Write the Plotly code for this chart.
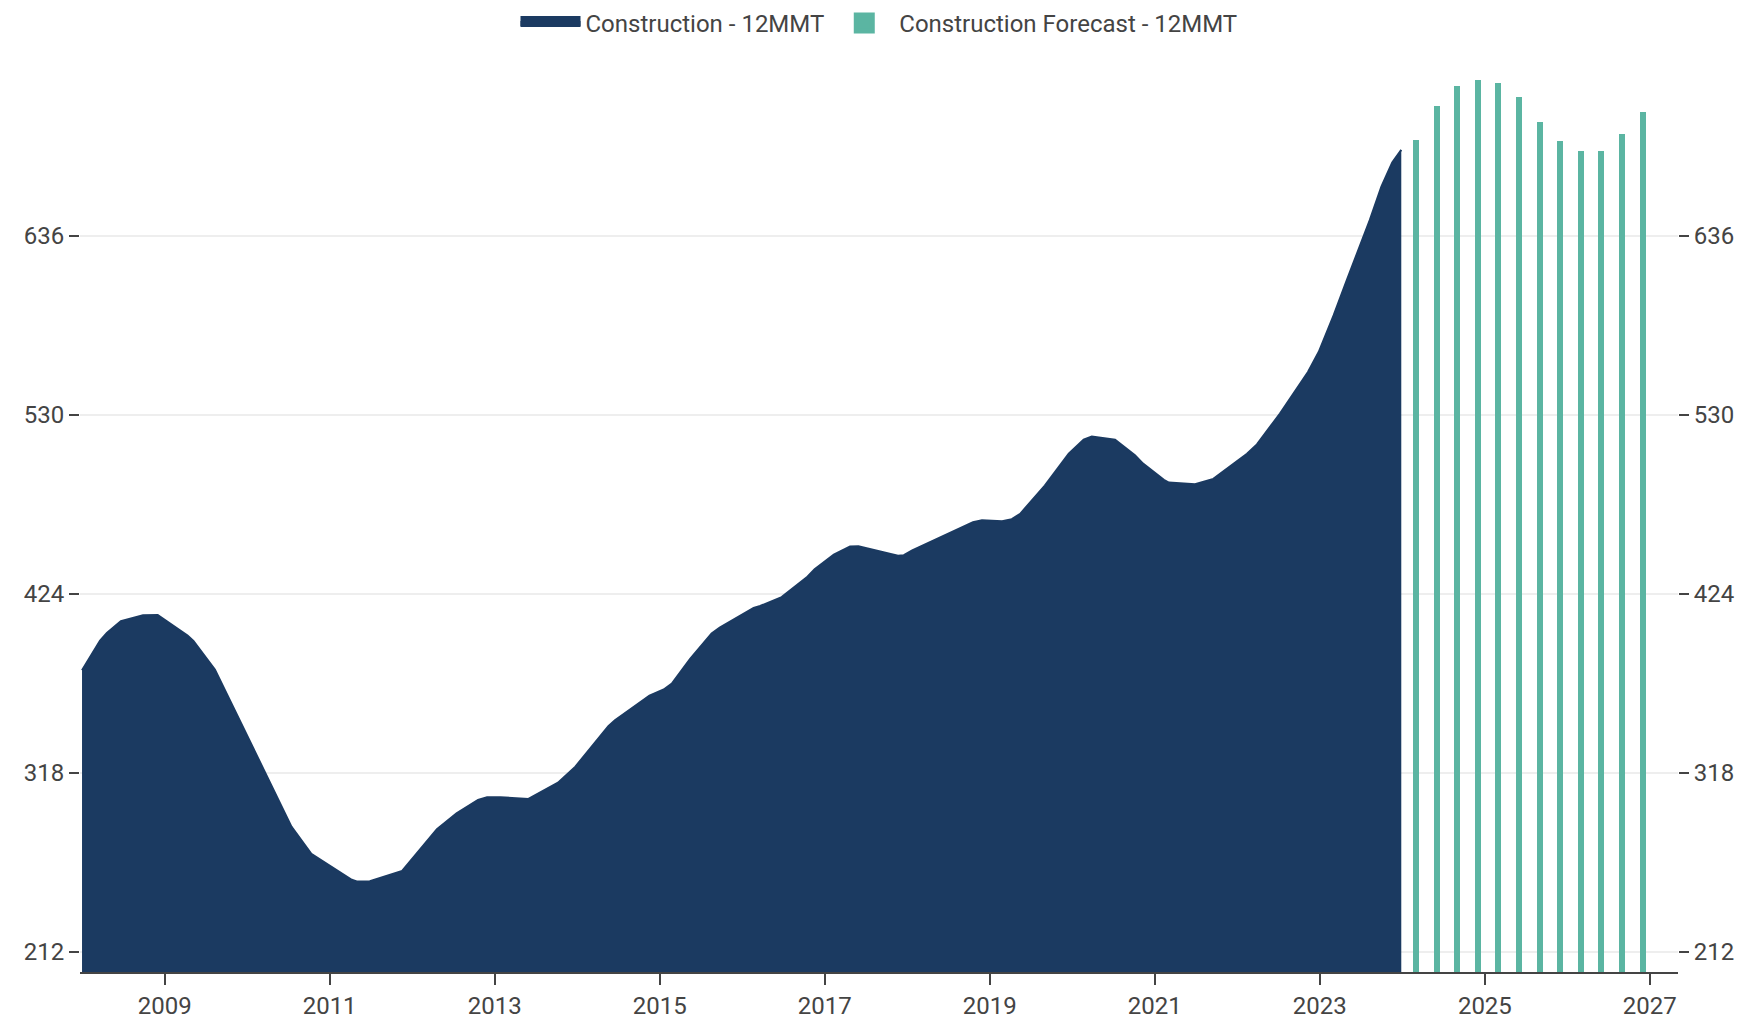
import plotly.graph_objects as go

# ---- data ----
construction_dates = [
    "2008-01-01", "2008-03-21", "2008-04-20", "2008-06-21", "2008-09-27", "2008-12-01",
    "2009-04-12", "2009-05-08", "2009-08-11",
    "2010-07-16", "2010-10-12",
    "2011-04-09", "2011-05-01", "2011-06-28", "2011-11-18",
    "2012-04-20", "2012-07-16", "2012-10-19", "2012-11-28",
    "2013-01-26", "2013-05-30", "2013-10-08", "2013-12-24",
    "2014-05-19", "2014-06-17", "2014-11-17",
    "2015-01-19", "2015-02-24", "2015-05-16", "2015-08-19", "2015-09-24",
    "2016-02-21", "2016-03-21", "2016-06-24", "2016-10-12", "2016-11-17",
    "2017-02-10", "2017-04-23", "2017-05-30", "2017-11-21", "2017-12-17",
    "2018-01-23", "2018-10-19", "2018-11-28",
    "2019-02-25", "2019-04-09", "2019-05-16", "2019-09-02", "2019-12-17",
    "2020-02-21", "2020-03-28", "2020-07-09", "2020-10-05", "2020-11-10",
    "2021-02-10", "2021-03-04", "2021-06-28", "2021-09-17",
    "2022-02-13", "2022-03-29", "2022-07-09", "2022-11-10", "2022-12-28",
    "2023-03-04", "2023-05-01", "2023-08-11", "2023-10-01", "2023-11-18", "2023-12-28",
]
construction_values = [
    378.7, 396.2, 400.7, 407.8, 411.2, 411.4,
    399.2, 396.0, 379.1,
    286.1, 270.0,
    254.6, 253.6, 253.8, 259.9,
    284.6, 294.0, 301.9, 303.5,
    303.5, 302.5, 312.1, 321.6,
    345.6, 349.1, 363.7,
    367.3, 370.8, 385.4, 400.4, 403.9,
    415.5, 416.7, 422.0, 433.5, 438.4,
    447.2, 451.9, 452.1, 446.5, 446.8,
    449.6, 466.3, 467.5,
    466.9, 468.1, 471.3, 488.0, 506.9,
    515.2, 517.0, 515.2, 505.9, 501.0,
    491.4, 489.8, 488.8, 492.0,
    506.9, 512.4, 530.6, 555.3, 567.2,
    588.9, 609.7, 645.3, 665.1, 679.3, 686.8,
]

forecast_dates = [
    "2024-03-01", "2024-06-01", "2024-09-01", "2024-12-01",
    "2025-03-01", "2025-06-01", "2025-09-01", "2025-12-01",
    "2026-03-01", "2026-06-01", "2026-09-01", "2026-12-01",
]
forecast_values = [
    692.8, 713.0, 724.8, 728.4,
    726.6, 718.3, 703.5, 692.2,
    686.3, 686.3, 696.4, 709.4,
]

y_ticks = [212, 318, 424, 530, 636]
x_tick_dates = ["2009-01-01", "2011-01-01", "2013-01-01", "2015-01-01", "2017-01-01",
                "2019-01-01", "2021-01-01", "2023-01-01", "2025-01-01", "2027-01-01"]
x_tick_labels = ["2009", "2011", "2013", "2015", "2017", "2019", "2021", "2023", "2025", "2027"]

NAVY = "#1B3A61"
TEAL = "#5BB5A2"
FONT = "Roboto"
NAME_HIST = "Construction - 12MMT"
NAME_FC = "Construction Forecast - 12MMT"

fig = go.Figure()
# plotted series (legend shown through the larger legend keys below)
fig.add_trace(go.Scatter(
    x=construction_dates, y=construction_values,
    name=NAME_HIST, legendgroup="hist", showlegend=False,
    mode="lines", line=dict(color=NAVY, width=2),
    fill="tozeroy", fillcolor=NAVY,
))
fig.add_trace(go.Bar(
    x=forecast_dates, y=forecast_values,
    name=NAME_FC, legendgroup="fc", showlegend=False,
    marker=dict(color=TEAL, line=dict(width=0)),
    width=26.5 * 86400000,
    yaxis="y2",
))
# legend keys
fig.add_trace(go.Scatter(
    x=[None], y=[None], name=NAME_HIST, legendgroup="hist",
    mode="lines", line=dict(color=NAVY, width=10),
    fill="tozeroy", fillcolor=NAVY, hoverinfo="skip",
))
fig.add_trace(go.Scatter(
    x=[None], y=[None], name=NAME_FC, legendgroup="fc",
    mode="markers", marker=dict(symbol="square", size=16, color=TEAL,
                                line=dict(color=TEAL, width=5)),
    hoverinfo="skip", yaxis="y2",
))

y_range = [200, 740]
axis_font = dict(family=FONT, size=24, color="#444")

fig.update_layout(
    width=1744, height=1023,
    margin=dict(l=80, r=66, t=60, b=51, autoexpand=False),
    paper_bgcolor="white", plot_bgcolor="white",
    font=dict(family=FONT, size=24, color="#444"),
    showlegend=True,
    legend=dict(orientation="h", x=0.5, xanchor="center", y=1.04, yanchor="middle",
                font=dict(family=FONT, size=24, color="#444"), itemwidth=60,
                bgcolor="rgba(0,0,0,0)"),
    bargap=0,
    xaxis=dict(
        type="date", range=["2007-12-23", "2027-05-06"], automargin=False,
        tickmode="array", tickvals=x_tick_dates, ticktext=x_tick_labels,
        ticks="outside", ticklen=11, tickwidth=2, tickcolor="#444",
        showline=True, linecolor="#444", linewidth=2,
        showgrid=False, zeroline=False, tickfont=axis_font,
    ),
    yaxis=dict(
        range=y_range, tickmode="array", tickvals=y_ticks, automargin=False,
        ticks="outside", ticklen=10, tickwidth=2, tickcolor="#444",
        showline=False, showgrid=True, gridcolor="#EEEEEE", gridwidth=2,
        zeroline=False, tickfont=axis_font,
    ),
    yaxis2=dict(
        range=y_range, tickmode="array", tickvals=y_ticks, automargin=False,
        overlaying="y", side="right", anchor="x",
        ticks="outside", ticklen=10, tickwidth=2, tickcolor="#444",
        showline=False, showgrid=False, zeroline=False, tickfont=axis_font,
    ),
)

fig.write_html("out.html")
